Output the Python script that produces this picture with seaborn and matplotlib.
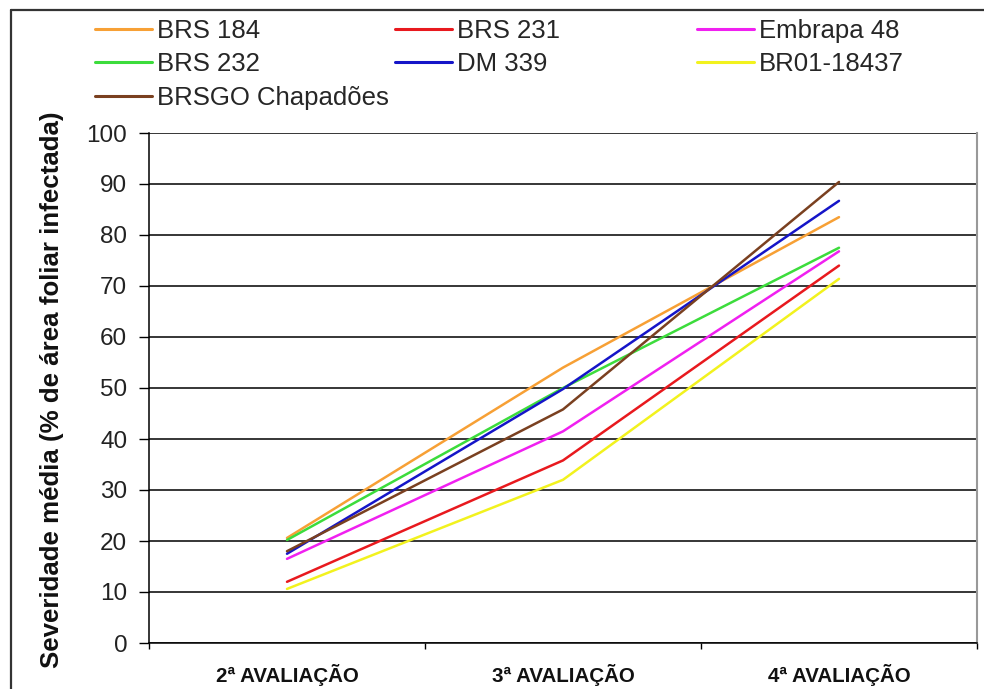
import matplotlib
matplotlib.use("Agg")
import matplotlib.pyplot as plt
from matplotlib.lines import Line2D
import seaborn as sns
import pandas as pd

# ---- data ----
avaliacoes = ["2ª AVALIAÇÃO", "3ª AVALIAÇÃO", "4ª AVALIAÇÃO"]
cultivares = ["BRS 184", "BRS 231", "Embrapa 48", "BRS 232", "DM 339",
              "BR01-18437", "BRSGO Chapadões"]
brs_184 = [20.6, 54.0, 83.5]
brs_231 = [12.0, 35.8, 74.0]
embrapa_48 = [16.5, 41.5, 76.8]
brs_232 = [20.2, 50.0, 77.5]
dm_339 = [17.5, 49.8, 86.7]
br01_18437 = [10.6, 32.0, 71.4]
brsgo_chapadoes = [18.0, 45.8, 90.4]
y_ticks = [0, 10, 20, 30, 40, 50, 60, 70, 80, 90, 100]
y_label = "Severidade média (% de área foliar infectada)"

series = [brs_184, brs_231, embrapa_48, brs_232, dm_339, br01_18437, brsgo_chapadoes]
cores = {
    "BRS 184": "#F7A035",
    "BRS 231": "#E8191E",
    "Embrapa 48": "#F020F0",
    "BRS 232": "#3CDC3C",
    "DM 339": "#1515C8",
    "BR01-18437": "#F2F21E",
    "BRSGO Chapadões": "#7A4020",
}

rows = []
for nome, vals in zip(cultivares, series):
    for av, v in zip(avaliacoes, vals):
        rows.append({"Avaliação": av, "Severidade": v, "Cultivar": nome})
df = pd.DataFrame(rows)

sns.set_style("white")
plt.rcParams["font.family"] = ["Liberation Sans", "DejaVu Sans"]

W, H = 984, 689
fig = plt.figure(figsize=(W / 100, H / 100), dpi=100)
ax = fig.add_axes([149 / W, 1 - 643 / H, (977 - 149) / W, (643 - 133) / H])

sns.lineplot(data=df, x="Avaliação", y="Severidade", hue="Cultivar",
             hue_order=cultivares, palette=cores, linewidth=1.8,
             sort=False, legend=False, ax=ax)

ax.set_xlim(-0.5, 2.5)
ax.set_ylim(0, 100)
ax.set_yticks(y_ticks)
ax.set_yticklabels([str(t) for t in y_ticks], fontsize=17.5, color="#222222")
ax.set_xticks([0, 1, 2])
ax.set_xticklabels(avaliacoes, fontsize=14.8, fontweight="bold", color="#111111")
ax.set_xticks([-0.5, 0.5, 1.5, 2.5], minor=True)
ax.tick_params(axis="x", which="major", length=0, pad=15)
ax.tick_params(axis="x", which="minor", length=4.5, width=1.0, direction="out",
               color="black", bottom=True)
ax.tick_params(axis="y", which="major", length=7.2, width=1.0, direction="out",
               color="black", left=True, pad=8.5)
ax.set_xlabel("")
ax.set_ylabel(y_label, fontsize=18.6, fontweight="bold", color="#111111", va="center")
ax.yaxis.set_label_coords((52 - 149) / (977 - 149), (643 - 390) / (643 - 133))

ax.yaxis.grid(True, color="black", linewidth=1.1)
ax.xaxis.grid(False)
ax.set_axisbelow(True)
for s in ["left", "bottom"]:
    ax.spines[s].set_color("black")
    ax.spines[s].set_linewidth(1.1)
ax.spines["top"].set_visible(False)
ax.spines["right"].set_color("#999999")
ax.spines["right"].set_linewidth(1.5)

# legends (three columns with equal pitch)
def handle(n):
    return Line2D([], [], color=cores[n], linewidth=2.2)

cols = [["BRS 184", "BRS 232", "BRSGO Chapadões"],
        ["BRS 231", "DM 339"],
        ["Embrapa 48", "BR01-18437"]]
col_x = [95, 395, 697]
fs_leg = 18.5
for names, x0 in zip(cols, col_x):
    fig.legend(handles=[handle(n) for n in names], labels=names,
               loc="upper left", bbox_to_anchor=(x0 / W, 1 - 19 / H),
               frameon=False, borderpad=0, borderaxespad=0,
               handlelength=57 / 25.7, handletextpad=0.2,
               labelspacing=0.365, fontsize=fs_leg)

# outer frame (cropped at right / bottom)
fig.add_artist(Line2D([11 / W, 1.0], [1 - 10 / H, 1 - 10 / H],
                      transform=fig.transFigure, color="#333333", linewidth=1.6))
fig.add_artist(Line2D([11 / W, 11 / W], [0.0, 1 - 10 / H],
                      transform=fig.transFigure, color="#333333", linewidth=1.6))

fig.savefig("out.png", dpi=100, facecolor="white")
